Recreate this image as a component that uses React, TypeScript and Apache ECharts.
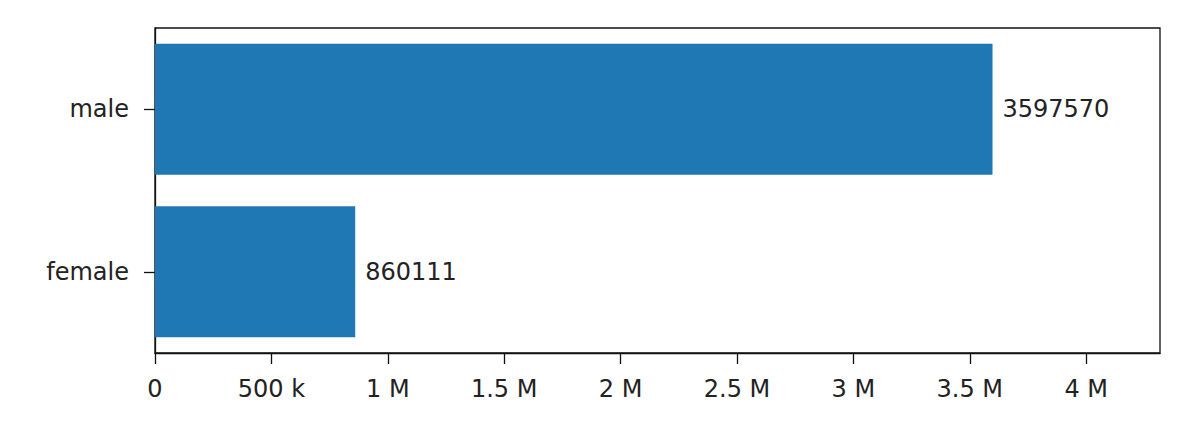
import { useEffect, useRef } from 'react'
import * as echarts from 'echarts'

const genders = ['female', 'male']
const counts = [860111, 3597570]
const xTicks = [0, 500000, 1000000, 1500000, 2000000, 2500000, 3000000, 3500000, 4000000]

const formatTick = (v: number) => {
  if (v === 0) return '0'
  if (v < 1000000) return `${v / 1000} k`
  return `${v / 1000000} M`
}

const App: React.FC = () => {
  const chartRef = useRef<HTMLDivElement>(null)

  useEffect(() => {
    if (!chartRef.current) return
    const chart = echarts.init(chartRef.current, undefined, { renderer: 'svg' })

    const font = 'DejaVu Sans'
    const option = {
      animation: false,
      textStyle: { fontFamily: font },
      grid: {
        left: 155,
        right: 40,
        top: 28,
        bottom: 81,
        show: true,
        borderColor: '#111',
        borderWidth: 1.3,
        backgroundColor: '#fff'
      },
      xAxis: {
        type: 'value',
        min: 0,
        max: Math.max(...counts) * 1.2,
        splitLine: { show: false },
        axisLine: { show: true, lineStyle: { color: '#111', width: 1.3 } },
        axisTick: {
          show: true,
          length: 11,
          lineStyle: { color: '#111', width: 1.3 },
          customValues: xTicks
        },
        axisLabel: {
          color: '#222',
          fontFamily: font,
          fontSize: 24,
          margin: 24,
          customValues: xTicks,
          formatter: formatTick
        }
      },
      yAxis: {
        type: 'category',
        data: genders,
        axisLine: { show: true, lineStyle: { color: '#111', width: 1.3 } },
        axisTick: {
          show: true,
          alignWithLabel: true,
          length: 11,
          lineStyle: { color: '#111', width: 1.3 }
        },
        axisLabel: {
          color: '#222',
          fontFamily: font,
          fontSize: 24,
          margin: 26
        }
      },
      series: [
        {
          type: 'bar',
          data: counts,
          barWidth: 131,
          itemStyle: { color: '#1f77b4' },
          label: {
            show: true,
            position: 'right',
            distance: 10,
            color: '#222',
            fontFamily: font,
            fontSize: 24
          }
        }
      ]
    }

    chart.setOption(option)
    return () => {
      chart.dispose()
    }
  }, [])

  return (
    <div
      ref={chartRef}
      style={{
        position: 'fixed',
        left: 0,
        top: 0,
        width: '1200px',
        height: '434px',
        background: '#fff'
      }}
    />
  )
}

export default App
